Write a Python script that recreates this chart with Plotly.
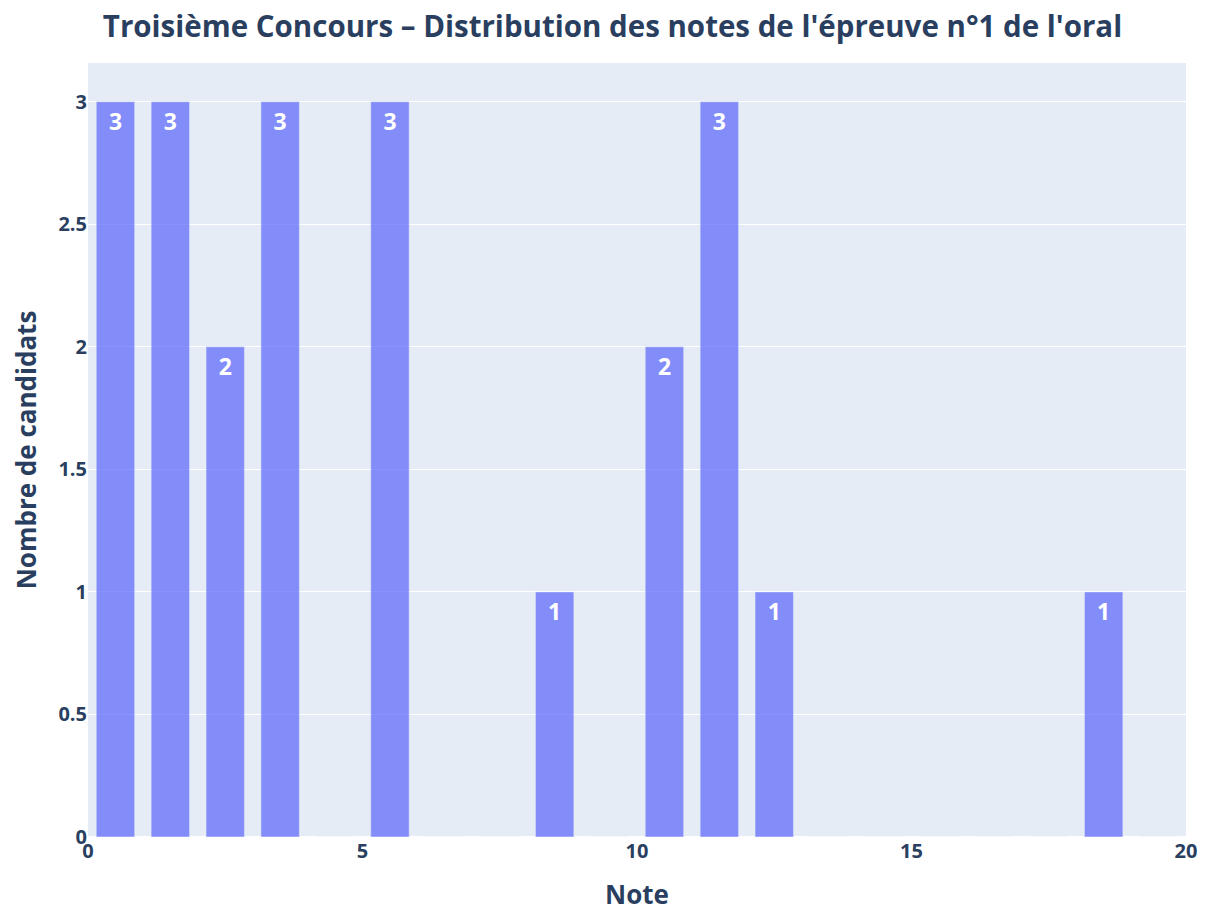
import plotly.graph_objects as go

bin_starts = list(range(0, 20))
counts = [3, 3, 2, 3, 0, 3, 0, 0, 1, 0, 2, 3, 1, 0, 0, 0, 0, 0, 1, 0]
title = "Troisième Concours – Distribution des notes de l'épreuve n°1 de l'oral"
x_title = "Note"
y_title = "Nombre de candidats"

centers = [b + 0.5 for b in bin_starts]
labels = [str(c) if c else "" for c in counts]

FONT = "Open Sans"
fig = go.Figure(go.Bar(
    x=centers, y=counts, width=0.7,
    text=labels, textposition="inside", insidetextanchor="end", textangle=0,
    textfont=dict(color="white", size=23, family=FONT, weight="bold"),
    marker=dict(color="#636efa", opacity=0.75, line=dict(color="#E5ECF6", width=0.5)),
))
fig.update_layout(
    template="plotly",
    width=1209, height=909,
    margin=dict(l=80, r=31, t=55, b=80, autoexpand=False),
    font=dict(family=FONT, weight="bold", color="#2a3f5f", size=18),
    title=dict(text=title, x=0.5, xanchor="center", y=0.979, yanchor="middle",
               font=dict(size=29.5, weight="bold")),
    showlegend=False,
    bargap=0.3,
)
fig.update_xaxes(range=[0, 20], dtick=5, title=dict(text=x_title, font=dict(size=26, weight="bold"), standoff=22),
                 tickfont=dict(size=20, weight="bold"), showgrid=False, zeroline=False, automargin=False)
fig.update_yaxes(range=[0, 3.158], title=dict(text=y_title, font=dict(size=26, weight="bold"), standoff=28),
                 tickfont=dict(size=20, weight="bold"), automargin=False)
fig.write_html("out.html")
